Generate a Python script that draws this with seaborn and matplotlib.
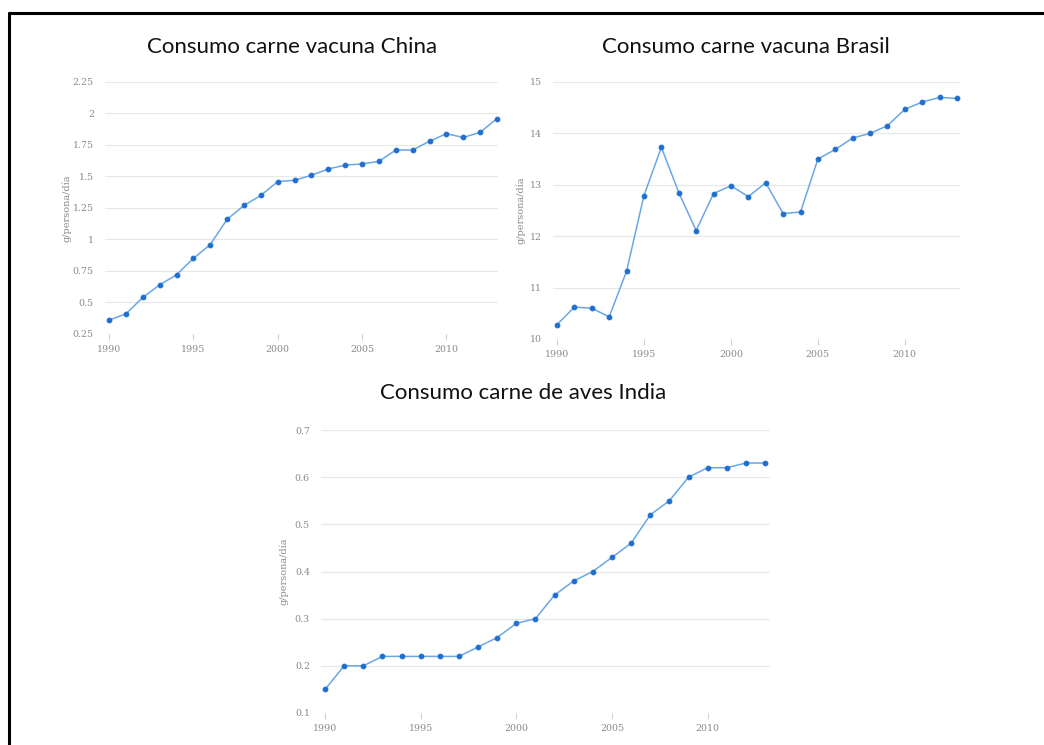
import matplotlib
matplotlib.use('Agg')
import matplotlib.pyplot as plt
import matplotlib.lines as mlines
import seaborn as sns
import pandas as pd

years = list(range(1990, 2014))

china = [0.36, 0.41, 0.54, 0.64, 0.72, 0.85, 0.96, 1.16, 1.27, 1.35, 1.46, 1.47,
         1.51, 1.56, 1.59, 1.60, 1.62, 1.71, 1.71, 1.78, 1.84, 1.81, 1.85, 1.96]
brasil = [10.28, 10.62, 10.60, 10.43, 11.32, 12.79, 13.73, 12.85, 12.11, 12.83, 12.98, 12.77,
          13.04, 12.44, 12.47, 13.50, 13.69, 13.91, 14.00, 14.15, 14.47, 14.61, 14.70, 14.68]
india = [0.15, 0.20, 0.20, 0.22, 0.22, 0.22, 0.22, 0.22, 0.24, 0.26, 0.29, 0.30,
         0.35, 0.38, 0.40, 0.43, 0.46, 0.52, 0.55, 0.60, 0.62, 0.62, 0.63, 0.63]

titles = ['Consumo carne vacuna China', 'Consumo carne vacuna Brasil', 'Consumo carne de aves India']
ylabel = 'g/persona/día'
x_ticks = [1990, 1995, 2000, 2005, 2010]
china_ticks = [0.25, 0.5, 0.75, 1, 1.25, 1.5, 1.75, 2, 2.25]
china_labels = ['0.25', '0.5', '0.75', '1', '1.25', '1.5', '1.75', '2', '2.25']
brasil_ticks = [10, 11, 12, 13, 14, 15]
india_ticks = [0.1, 0.2, 0.3, 0.4, 0.5, 0.6, 0.7]

sns.set_theme(style='white')
plt.rcParams['font.family'] = ['DejaVu Sans']

W, H = 1044, 745
fig = plt.figure(figsize=(W / 100, H / 100), dpi=100)

LINE = '#6aa7e6'
MARK = '#1f6fd1'
GRID = '#e8e8e8'
TXT = '#8a8a8a'


def px_axes(left, top, right, bottom):
    return fig.add_axes([left / W, 1 - bottom / H, (right - left) / W, (bottom - top) / H])


def draw(ax, values, yticks, ylabels, xlim, ylim, title, title_xy, ylab_x):
    df = pd.DataFrame({'year': years, 'value': values})
    sns.lineplot(data=df, x='year', y='value', ax=ax, color=LINE, linewidth=1.1,
                 marker='o', markersize=3.4, markerfacecolor=MARK, markeredgecolor=MARK,
                 clip_on=False)
    ax.set_xlim(*xlim)
    ax.set_ylim(*ylim)
    ax.set_yticks(yticks)
    ax.set_yticklabels(ylabels if ylabels else [f'{t:g}' for t in yticks])
    ax.set_xticks(x_ticks)
    ax.set_xticklabels([str(t) for t in x_ticks])
    for s in ax.spines.values():
        s.set_visible(False)
    ax.grid(axis='y', color=GRID, linewidth=0.9)
    ax.grid(axis='x', visible=False)
    ax.set_axisbelow(True)
    ax.tick_params(axis='y', length=0, pad=8, labelsize=6.8, labelcolor=TXT)
    ax.tick_params(axis='x', length=4, width=0.8, color='#d0d0d0', pad=4,
                   labelsize=6.8, labelcolor=TXT, direction='out', bottom=True)
    for lab in ax.get_xticklabels() + ax.get_yticklabels():
        lab.set_fontfamily('DejaVu Serif')
    ax.set_xlabel('')
    ax.set_ylabel('')
    # y label as figure text
    y0, y1 = ax.get_position().y0, ax.get_position().y1
    fig.text(ylab_x / W, (y0 + y1) / 2, ylabel, rotation=90, ha='center', va='center',
             fontsize=7, color=TXT, family='DejaVu Serif')
    fig.text(title_xy[0] / W, 1 - title_xy[1] / H, title, ha='center', va='center',
             fontsize=16, color='#111111', family='Lato')


ax1 = px_axes(105, 82, 498, 334)
draw(ax1, china, china_ticks, china_labels, (1989.76, 2013.06), (0.25, 2.25),
     titles[0], (292, 47), 67)

ax2 = px_axes(553, 82, 960, 339)
draw(ax2, brasil, brasil_ticks, None, (1989.77, 2013.17), (10, 15),
     titles[1], (746, 47), 521)

ax3 = px_axes(321, 430, 770, 713)
draw(ax3, india, india_ticks, None, (1989.79, 2013.26), (0.1, 0.7),
     titles[2], (523, 393), 284)

# frame lines (top and left)
fig.add_artist(mlines.Line2D([9 / W, 1], [1 - 13 / H, 1 - 13 / H], color='black', linewidth=2.2))
fig.add_artist(mlines.Line2D([9 / W, 9 / W], [0, 1 - 13 / H], color='black', linewidth=2.2))

fig.savefig('out.png', dpi=100)
